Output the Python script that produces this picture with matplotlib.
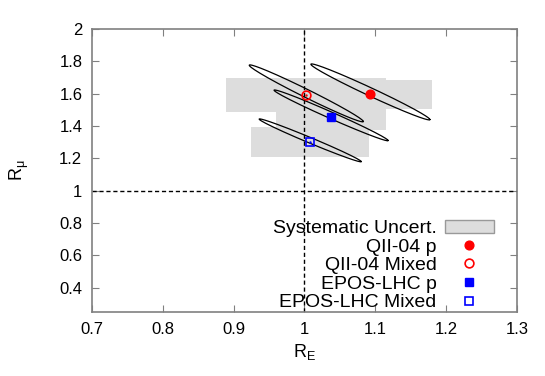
import numpy as np
import matplotlib.pyplot as plt
from matplotlib.patches import Rectangle

plt.rcParams['font.family'] = ['Liberation Sans', 'DejaVu Sans']

labels = ['QII-04 p', 'QII-04 Mixed', 'EPOS-LHC p', 'EPOS-LHC Mixed']
r_e = [1.093, 1.002, 1.0375, 1.008]
r_mu = [1.595, 1.59, 1.455, 1.30]
# systematic uncertainty half widths
sys_e = [0.0876, 0.113, 0.078, 0.083]
sys_mu = [0.087, 0.105, 0.08, 0.093]
# contour ellipses: centre, half extents, decorrelation angle
ell_cx = [1.093, 1.0025, 1.0375, 1.008]
ell_cy = [1.611, 1.602, 1.466, 1.3115]
ell_sx = [0.084, 0.0805, 0.0805, 0.072]
ell_sy = [0.173, 0.176, 0.157, 0.1325]
ell_delta = [0.16, 0.16, 0.14, 0.14]

colors = ['red', 'red', 'blue', 'blue']
markers = ['o', 'o', 's', 's']
filled = [True, False, True, False]

fig = plt.figure(figsize=(5.45, 3.76), dpi=100)
ax = fig.add_axes([0.1688, 0.1702, 0.7798, 0.7527])

gray = '#dddddd'
for i in range(4):
    ax.add_patch(Rectangle((r_e[i] - sys_e[i], r_mu[i] - sys_mu[i]), 2 * sys_e[i], 2 * sys_mu[i],
                           facecolor=gray, edgecolor='none', zorder=1))

ax.axvline(1, color='black', ls=(0, (3, 2)), lw=1, zorder=2)
ax.axhline(1, color='black', ls=(0, (3, 2)), lw=1, zorder=2)

t = np.linspace(0, 2 * np.pi, 400)
for i in range(4):
    x = ell_cx[i] + ell_sx[i] * np.cos(t)
    y = ell_cy[i] - ell_sy[i] * np.cos(t - ell_delta[i])
    ax.plot(x, y, color='black', lw=0.9, zorder=3)

handles = []
sys_h = ax.add_patch(Rectangle((0, 0), 0, 0, facecolor=gray, edgecolor='#999999', lw=1))
handles.append(sys_h)
for i in range(4):
    if filled[i]:
        h, = ax.plot(r_e[i], r_mu[i], ls='none', marker=markers[i], ms=6.3, color=colors[i],
                     mec=colors[i], zorder=5)
    else:
        h, = ax.plot(r_e[i], r_mu[i], ls='none', marker=markers[i], ms=6.3, mfc='none',
                     mec=colors[i], mew=1.2, zorder=5)
        ax.plot(r_e[i], r_mu[i], ls='none', marker='.', ms=1.5, color=colors[i], zorder=5)
    handles.append(h)

leg = ax.legend(handles, ['Systematic Uncert.'] + labels, loc='lower right',
                bbox_to_anchor=(0.982, -0.053), markerfirst=False, frameon=False,
                fontsize=14, handlelength=2.5, handletextpad=0.45, labelspacing=0.05,
                borderpad=0.3)

ax.set_xlim(0.7, 1.3)
ax.set_ylim(0.25, 2.0)
ax.set_xticks(np.arange(0.7, 1.31, 0.1))
ax.set_xticklabels(['0.7', '0.8', '0.9', '1', '1.1', '1.2', '1.3'])
ax.set_yticks(np.arange(0.4, 2.01, 0.2))
ax.set_yticklabels(['0.4', '0.6', '0.8', '1', '1.2', '1.4', '1.6', '1.8', '2'])
ax.tick_params(direction='in', top=True, right=True, length=5, color='#808080',
               labelsize=12, pad=7)
for s in ax.spines.values():
    s.set_color('#808080')
    s.set_linewidth(1.2)

ax.set_xlabel(r'R$_\mathregular{E}$', fontsize=13)
ax.set_ylabel(r'R$_\mathregular{\mu}$', fontsize=13, labelpad=20)

plt.savefig('out.png')
